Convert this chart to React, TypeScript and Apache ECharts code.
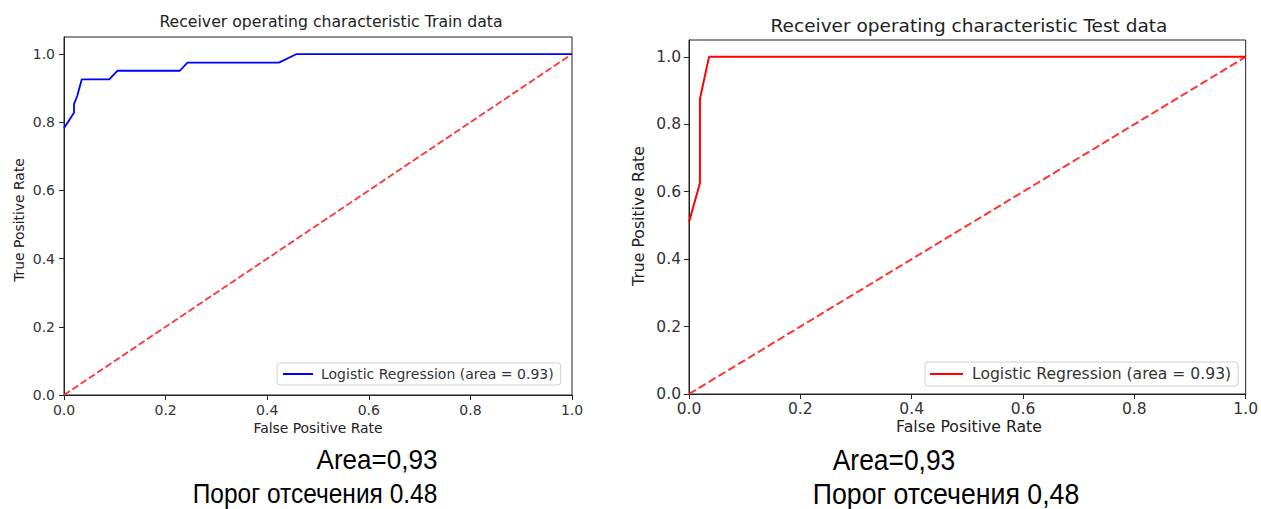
import React, { useEffect, useRef } from 'react';
import * as echarts from 'echarts';

const trainFpr = [0, 0.0197, 0.0197, 0.026, 0.035, 0.089, 0.105, 0.228, 0.243, 0.423, 0.458, 1.0];
const trainTpr = [0.783, 0.828, 0.853, 0.877, 0.926, 0.926, 0.951, 0.951, 0.975, 0.975, 1.0, 1.0];
const testFpr = [0, 0.0196, 0.0196, 0.036, 1.0];
const testTpr = [0.51, 0.625, 0.875, 1.0, 1.0];
const diagonal = [0, 1];
const tickValues = [0, 0.2, 0.4, 0.6, 0.8, 1.0];
const legendLabel = 'Logistic Regression (area = 0.93)';
const titles = ['Receiver operating characteristic Train data', 'Receiver operating characteristic Test data'];
const xName = 'False Positive Rate';
const yName = 'True Positive Rate';
const captions = [
  ['Area=0,93', 'Порог отсечения 0.48'],
  ['Area=0,93', 'Порог отсечения 0,48'],
];

const FONT = 'DejaVu Sans';
const AXIS = '#222';
const CAP_FONT = 'Liberation Sans';

export default function App() {
  const ref = useRef<HTMLDivElement>(null);
  useEffect(() => {
    const chart = echarts.init(ref.current!, null, { renderer: 'svg' });
    const fmt = (v: number) => v.toFixed(1);
    const mkX = (gridIndex: number, fs: number, margin: number) => ({
      type: 'value', gridIndex, min: 0, max: 1,
      axisLine: { show: true, lineStyle: { color: AXIS, width: 1 } },
      axisTick: { show: true, length: 5, lineStyle: { color: AXIS }, customValues: tickValues },
      axisLabel: { color: '#333', fontFamily: FONT, fontSize: fs, margin, formatter: fmt, customValues: tickValues },
      splitLine: { show: false },
    });
    const mkY = (gridIndex: number, fs: number, margin: number) => ({
      type: 'value', gridIndex, min: 0, max: 1.05,
      axisLine: { show: true, lineStyle: { color: AXIS, width: 1 } },
      axisTick: { show: true, length: 5, lineStyle: { color: AXIS }, customValues: tickValues },
      axisLabel: { color: '#333', fontFamily: FONT, fontSize: fs, margin, formatter: fmt, customValues: tickValues },
      splitLine: { show: false },
    });
    const zip = (a: number[], b: number[]) => a.map((v, i) => [v, b[i]]);
    const txt = (x: number, y: number, text: string, fs: number, family = FONT, extra: any = {}) => ({
      type: 'text', x, y, ...extra,
      style: { text, fontSize: fs, fontFamily: family, fill: '#222', align: 'center', verticalAlign: 'middle' },
    });
    const cap = (x: number, y: number, text: string, fs: number, sx: number) => ({
      type: 'text', x, y, scaleX: sx,
      style: { text, fontSize: fs, fontFamily: CAP_FONT, fill: '#000', align: 'center', verticalAlign: 'middle' },
    });
    chart.setOption({
      animation: false,
      grid: [
        { left: 64, top: 37, width: 508, height: 358, show: true, borderColor: AXIS, borderWidth: 1, backgroundColor: 'transparent' },
        { left: 689, top: 40, width: 560, height: 354, show: true, borderColor: AXIS, borderWidth: 1, backgroundColor: 'transparent' },
      ],
      xAxis: [mkX(0, 14, 8), mkX(1, 15.5, 7)],
      yAxis: [mkY(0, 14, 9), mkY(1, 15.5, 8)],
      legend: [
        {
          data: ['train'], left: 277, top: 363, width: 289,
          formatter: () => legendLabel,
          icon: 'rect', itemWidth: 30, itemHeight: 2, itemGap: 10,
          textStyle: { fontFamily: FONT, fontSize: 14, color: '#333', padding: [0, 0, 0, 3] },
          borderColor: '#d0d0d0', borderWidth: 1, borderRadius: 3, padding: [4, 7, 4, 6],
          backgroundColor: '#fff',
        },
        {
          data: ['test'], left: 925, top: 362, width: 317,
          formatter: () => legendLabel,
          icon: 'rect', itemWidth: 33, itemHeight: 2, itemGap: 10,
          textStyle: { fontFamily: FONT, fontSize: 15.6, color: '#333', padding: [0, 0, 0, 4] },
          borderColor: '#d0d0d0', borderWidth: 1, borderRadius: 3, padding: [4, 7, 4, 5],
          backgroundColor: '#fff',
        },
      ],
      series: [
        { name: 'diag0', type: 'line', xAxisIndex: 0, yAxisIndex: 0, data: zip(diagonal, diagonal), showSymbol: false, lineStyle: { color: '#ff3333', width: 1.8, type: [7, 3] }, z: 2 },
        { name: 'train', type: 'line', xAxisIndex: 0, yAxisIndex: 0, data: zip(trainFpr, trainTpr), showSymbol: false, color: '#0000ff', lineStyle: { color: '#0000ff', width: 1.8 }, z: 3 },
        { name: 'diag1', type: 'line', xAxisIndex: 1, yAxisIndex: 1, data: zip(diagonal, diagonal), showSymbol: false, lineStyle: { color: '#ff3333', width: 2, type: [8, 3.5] }, z: 2 },
        { name: 'test', type: 'line', xAxisIndex: 1, yAxisIndex: 1, data: zip(testFpr, testTpr), showSymbol: false, color: '#ff0000', lineStyle: { color: '#ff0000', width: 2 }, z: 3 },
      ],
      graphic: [
        txt(331, 21, titles[0], 15.7),
        txt(969, 25, titles[1], 18.5),
        txt(318, 428, xName, 13.9),
        txt(969, 426, xName, 15.7),
        txt(19, 220, yName, 13.9, FONT, { rotation: Math.PI / 2 }),
        txt(638, 216, yName, 15.7, FONT, { rotation: Math.PI / 2 }),
        cap(377, 460, captions[0][0], 28, 0.93),
        cap(315, 493, captions[0][1], 28, 0.875),
        cap(894, 460, captions[1][0], 29, 0.91),
        cap(946, 493, captions[1][1], 30, 0.89),
      ],
    });
    return () => chart.dispose();
  }, []);
  return <div ref={ref} style={{ position: 'fixed', left: 0, top: 0, width: 1261, height: 509, background: '#fff' }} />;
}
